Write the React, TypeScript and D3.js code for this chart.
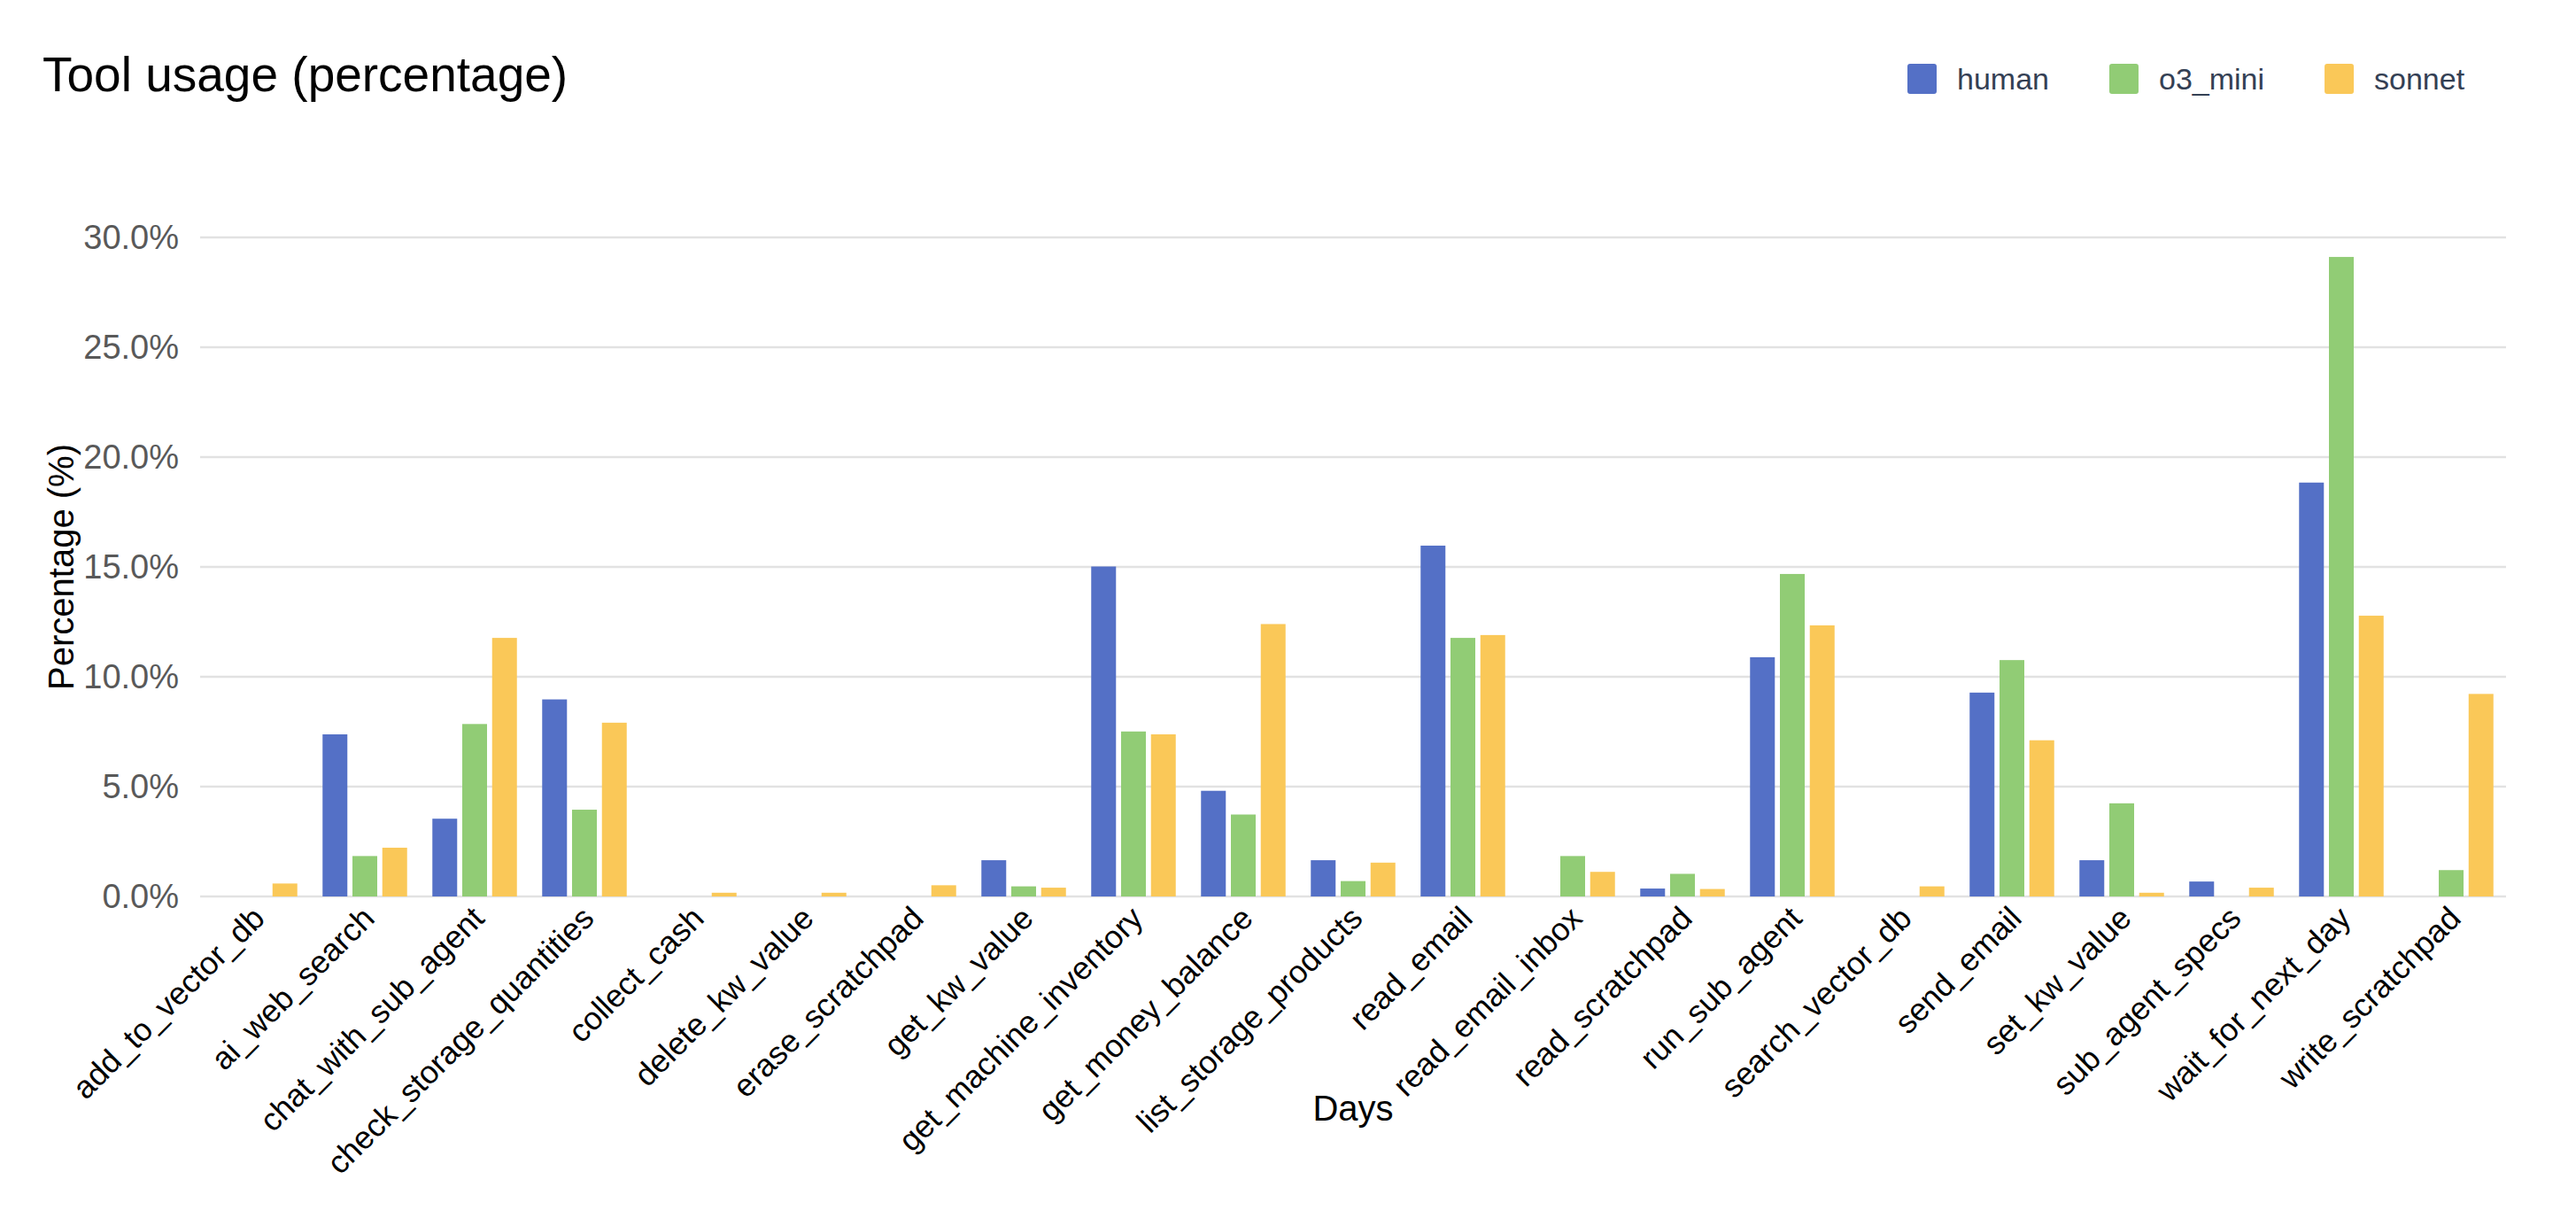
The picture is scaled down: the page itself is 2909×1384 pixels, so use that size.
import React, { useEffect, useRef } from "react";
import * as d3 from "d3";

const categories = [
  "add_to_vector_db",
  "ai_web_search",
  "chat_with_sub_agent",
  "check_storage_quantities",
  "collect_cash",
  "delete_kw_value",
  "erase_scratchpad",
  "get_kw_value",
  "get_machine_inventory",
  "get_money_balance",
  "list_storage_products",
  "read_email",
  "read_email_inbox",
  "read_scratchpad",
  "run_sub_agent",
  "search_vector_db",
  "send_email",
  "set_kw_value",
  "sub_agent_specs",
  "wait_for_next_day",
  "write_scratchpad",
];

const human = [0, 7.38, 3.54, 8.97, 0, 0, 0, 1.65, 15.02, 4.81, 1.65, 15.97, 0, 0.36, 10.89, 0, 9.28, 1.65, 0.68, 18.84, 0];
const o3Mini = [0, 1.84, 7.85, 3.95, 0, 0, 0, 0.46, 7.51, 3.73, 0.7, 11.77, 1.84, 1.03, 14.68, 0, 10.76, 4.24, 0, 29.11, 1.2];
const sonnet = [0.59, 2.22, 11.77, 7.91, 0.17, 0.17, 0.51, 0.4, 7.38, 12.4, 1.54, 11.9, 1.12, 0.34, 12.34, 0.46, 7.11, 0.17, 0.4, 12.78, 9.22];

const seriesNames = ["human", "o3_mini", "sonnet"];
const seriesValues = [human, o3Mini, sonnet];
const seriesColors = ["#5470c6", "#91cc75", "#fac858"];

const yTicks = [0, 5, 10, 15, 20, 25, 30];

const W = 2909;
const H = 1384;
const FONT = "'Liberation Sans', Arial, Helvetica, sans-serif";

const ToolUsageChart = () => {
  const ref = useRef<SVGSVGElement>(null);

  useEffect(() => {
    const svg = d3.select(ref.current);
    svg.selectAll("*").remove();

    const left = 226;
    const right = 2830;
    const top = 268;
    const bottom = 1012;

    const x0 = d3.scaleBand().domain(categories).range([left, right]).paddingInner(0.23).paddingOuter(0.115);
    const x1 = d3.scaleBand().domain(seriesNames).range([0, x0.bandwidth()]).paddingInner(0.17);
    const y = d3.scaleLinear().domain([0, 30]).range([bottom, top]);

    // title
    svg
      .append("text")
      .attr("x", 48)
      .attr("y", 103)
      .attr("fill", "#000")
      .style("font-family", FONT)
      .style("font-size", "55px")
      .text("Tool usage (percentage)");

    // grid
    svg
      .append("g")
      .selectAll("line")
      .data(yTicks)
      .enter()
      .append("line")
      .attr("x1", left)
      .attr("x2", right)
      .attr("y1", (d) => y(d))
      .attr("y2", (d) => y(d))
      .attr("stroke", "#e2e2e2")
      .attr("stroke-width", 2.5);

    svg
      .append("g")
      .selectAll("text")
      .data(yTicks)
      .enter()
      .append("text")
      .attr("x", 202)
      .attr("y", (d) => y(d))
      .attr("text-anchor", "end")
      .attr("dominant-baseline", "central")
      .attr("fill", "#595959")
      .style("font-family", FONT)
      .style("font-size", "38px")
      .text((d) => d3.format(".1f")(d) + "%");

    // bars
    const groups = svg
      .append("g")
      .selectAll("g")
      .data(categories)
      .enter()
      .append("g")
      .attr("transform", (d) => `translate(${x0(d)},0)`);

    groups
      .selectAll("rect")
      .data((d, i) => seriesNames.map((s, j) => ({ s, v: seriesValues[j][i], c: seriesColors[j] })))
      .enter()
      .append("rect")
      .attr("x", (d) => x1(d.s))
      .attr("width", x1.bandwidth())
      .attr("y", (d) => y(d.v))
      .attr("height", (d) => y(0) - y(d.v))
      .attr("fill", (d) => d.c);

    // x labels
    svg
      .append("g")
      .selectAll("text")
      .data(categories)
      .enter()
      .append("text")
      .attr("transform", (d) => `translate(${x0(d) + x0.bandwidth() / 2 + 4},1030) rotate(-45)`)
      .attr("text-anchor", "end")
      .attr("dominant-baseline", "central")
      .attr("fill", "#000")
      .style("font-family", FONT)
      .style("font-size", "36px")
      .text((d) => d);

    // axis titles
    svg
      .append("text")
      .attr("transform", `translate(83,${(top + bottom) / 2}) rotate(-90)`)
      .attr("text-anchor", "middle")
      .attr("fill", "#000")
      .style("font-family", FONT)
      .style("font-size", "40px")
      .text("Percentage (%)");

    svg
      .append("text")
      .attr("x", (left + right) / 2)
      .attr("y", 1265)
      .attr("text-anchor", "middle")
      .attr("fill", "#000")
      .style("font-family", FONT)
      .style("font-size", "40px")
      .text("Days");

    // legend
    const legend = svg.append("g");
    let lx = 2154;
    seriesNames.forEach((name, i) => {
      legend
        .append("rect")
        .attr("x", lx)
        .attr("y", 72)
        .attr("width", 33)
        .attr("height", 34)
        .attr("rx", 3)
        .attr("fill", seriesColors[i]);
      const t = legend
        .append("text")
        .attr("x", lx + 56)
        .attr("y", 89)
        .attr("dominant-baseline", "central")
        .attr("fill", "#344054")
        .style("font-family", FONT)
        .style("font-size", "34px")
        .text(name);
      const w = (t.node() as SVGTextElement).getComputedTextLength();
      lx = lx + 56 + w + 68;
    });
  }, []);

  return <svg ref={ref} width={W} height={H} style={{ position: "absolute", left: 0, top: 0, background: "#fff" }}></svg>;
};

export default function App() {
  return <ToolUsageChart />;
}
